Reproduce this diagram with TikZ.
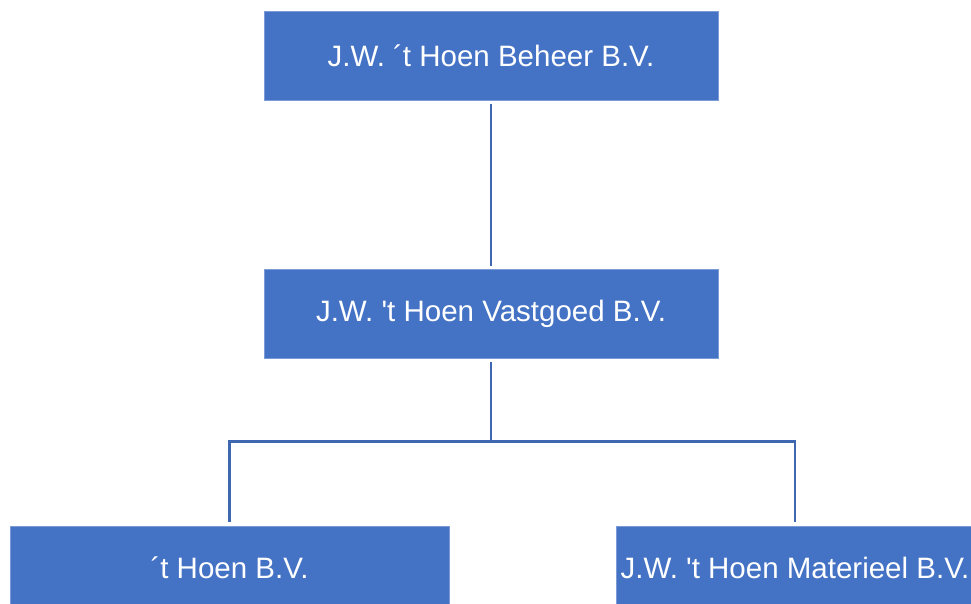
\documentclass[tikz,border=0pt]{standalone}
\usepackage{fontspec}
\setmainfont{Liberation Sans}[Ligatures=TeXOff]
\usetikzlibrary{calc}
\definecolor{boxblue}{HTML}{4472C4}
\definecolor{lineblue}{HTML}{3F67B1}
\definecolor{edgeblue}{HTML}{7C9BD6}
\tikzset{
  orgbox/.style={fill=boxblue, draw=edgeblue, line width=0.8pt, text=white,
    inner sep=0pt, font=\fontsize{29.5}{35}\selectfont},
  conn/.style={draw=lineblue, line width=2.8pt}
}
\begin{document}
\begin{tikzpicture}[x=1pt,y=1pt]
\useasboundingbox (0,0) rectangle (971,603);
\begin{scope}
\clip (0,0) rectangle (971,603);
\node[orgbox, minimum width=454pt, minimum height=89pt] (top) at (491,547) {J.W. ´t Hoen Beheer B.V.};
\node[orgbox, minimum width=454pt, minimum height=89pt] (mid) at (491,289.5) {J.W. 't Hoen Vastgoed B.V.};
\node[orgbox, minimum width=439pt, minimum height=84pt] (bl) at (229.5,35) {´t Hoen B.V.};
\node[orgbox, minimum width=358pt, minimum height=84pt] (br) at (795,35) {J.W. 't Hoen Materieel B.V.};
\end{scope}
\coordinate (j) at ($(mid.south)+(0,-83)$);
\draw[conn, shorten <=3pt, shorten >=3pt] (top.south) -- (mid.north);
\draw[conn, shorten <=4pt] (mid.south) -- (j);
\draw[conn] ([yshift=4pt]bl.north) |- (j) -| ([yshift=4pt]br.north);
\end{tikzpicture}
\end{document}
